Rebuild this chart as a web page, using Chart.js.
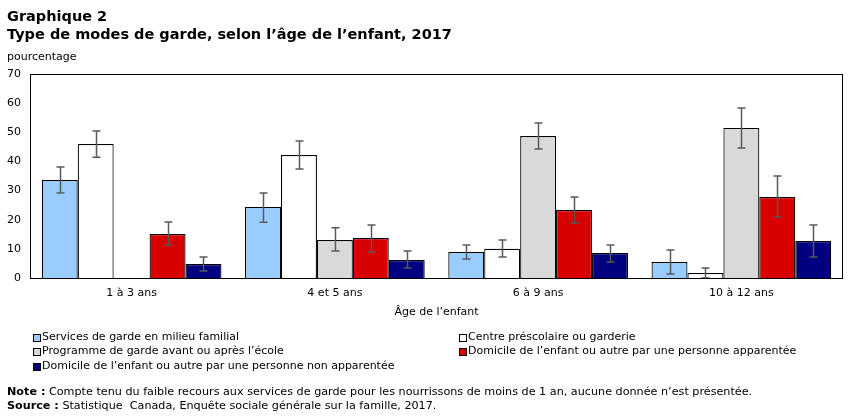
<!DOCTYPE html>
<html lang="fr">
<head>
<meta charset="utf-8">
<script src="https://cdn.jsdelivr.net/npm/chart.js@4.4.1/dist/chart.umd.min.js"></script>
<style>
  html, body { margin: 0; padding: 0; background: #fff; }
  body { width: 852px; height: 417px; position: relative; overflow: hidden; font-family: "DejaVu Sans", Verdana, sans-serif; color: #000; }
  #wrap { position: absolute; left: 0; top: 0; width: 852px; height: 417px; }
  .t { position: absolute; white-space: nowrap; }
  .title { left: 7px; font-weight: bold; font-size: 14.5px; line-height: 18px; }
  .small { font-size: 11px; line-height: 14px; }
  .note { font-size: 11.2px; line-height: 14px; }
  .sw { position: absolute; width: 6px; height: 6px; border: 1px solid #000; }
</style>
</head>
<body>
<div id="wrap"><canvas id="c" width="852" height="417"></canvas></div>
<div class="t title" style="top:7px">Graphique 2</div>
<div class="t title" style="top:25px">Type de modes de garde, selon l’âge de l’enfant, 2017</div>
<div class="t small" style="left:7px; top:50px">pourcentage</div>
<div id="legend"></div>
<div class="t note" style="left:7px; top:385px"><b>Note&nbsp;:</b> Compte tenu du faible recours aux services de garde pour les nourrissons de moins de 1 an, aucune donnée n’est présentée.</div>
<div class="t note" style="left:7px; top:399px"><b>Source&nbsp;:</b> Statistique&nbsp; Canada, Enquête sociale générale sur la famille, 2017.</div>
<script>
// Categories and tick labels
const categories = ['1 à 3 ans', '4 et 5 ans', '6 à 9 ans', '10 à 12 ans'];
const yTicks = [0, 10, 20, 30, 40, 50, 60, 70];

// Series labels
const seriesLabels = [
  'Services de garde en milieu familial',
  'Centre préscolaire ou garderie',
  'Programme de garde avant ou après l’école',
  'Domicile de l’enfant ou autre par une personne apparentée',
  'Domicile de l’enfant ou autre par une personne non apparentée'
];

// Values (percent) with confidence intervals
const familial      = [33.6, 24.4, 8.9, 5.5];
const familialLow   = [29.2, 19.1, 6.5, 1.4];
const familialHigh  = [38.1, 29.2, 11.3, 9.6];

const centre        = [46.0, 42.2, 10.0, 1.7];
const centreLow     = [41.4, 37.4, 7.2, 0.0];
const centreHigh    = [50.4, 47.0, 13.0, 3.4];

const programme     = [null, 13.0, 48.7, 51.5];
const programmeLow  = [null, 9.3, 44.3, 44.6];
const programmeHigh = [null, 17.2, 53.2, 58.3];

const apparentee     = [15.1, 13.7, 23.3, 27.8];
const apparenteeLow  = [11.3, 8.9, 18.9, 20.9];
const apparenteeHigh = [19.2, 18.2, 27.8, 35.0];

const nonApparentee     = [4.8, 6.2, 8.6, 12.7];
const nonApparenteeLow  = [2.4, 3.4, 5.5, 7.2];
const nonApparenteeHigh = [7.2, 9.3, 11.3, 18.2];

const colors = ['#99CCFF', '#FFFFFF', '#D9D9D9', '#D90000', '#000080'];
const seriesData = [familial, centre, programme, apparentee, nonApparentee];
const lows = [familialLow, centreLow, programmeLow, apparenteeLow, nonApparenteeLow];
const highs = [familialHigh, centreHigh, programmeHigh, apparenteeHigh, nonApparenteeHigh];

const FONT = '"DejaVu Sans", Verdana, sans-serif';

const errorBars = {
  id: 'errorBars',
  afterDatasetsDraw(chart) {
    const ctx = chart.ctx;
    const y = chart.scales.y;
    ctx.save();
    ctx.strokeStyle = '#595959';
    ctx.lineWidth = 1.5;
    chart.data.datasets.forEach((ds, di) => {
      const meta = chart.getDatasetMeta(di);
      meta.data.forEach((bar, i) => {
        if (ds.data[i] == null) return;
        const lo = y.getPixelForValue(ds.errLow[i]);
        const hi = y.getPixelForValue(ds.errHigh[i]);
        const x = Math.round(bar.x) + 0.5;
        ctx.beginPath();
        ctx.moveTo(x, hi); ctx.lineTo(x, lo);
        ctx.moveTo(x - 4, hi); ctx.lineTo(x + 4, hi);
        ctx.moveTo(x - 4, lo); ctx.lineTo(x + 4, lo);
        ctx.stroke();
      });
    });
    ctx.restore();
  }
};

const frame = {
  id: 'frame',
  afterDraw(chart) {
    const a = chart.chartArea;
    const ctx = chart.ctx;
    ctx.save();
    ctx.strokeStyle = '#000';
    ctx.lineWidth = 1;
    ctx.strokeRect(Math.round(a.left) + 0.5, Math.round(a.top) + 0.5,
                   Math.round(a.right - a.left) - 1, Math.round(a.bottom - a.top));
    ctx.restore();
  }
};

const chart = new Chart(document.getElementById('c'), {
  type: 'bar',
  data: {
    labels: categories,
    datasets: seriesLabels.map((label, i) => ({
      label,
      data: seriesData[i],
      errLow: lows[i],
      errHigh: highs[i],
      backgroundColor: colors[i],
      borderColor: '#000',
      borderWidth: 1.2,
      borderSkipped: 'bottom',
      categoryPercentage: 0.884,
      barPercentage: 1.0
    }))
  },
  options: {
    responsive: false,
    animation: false,
    devicePixelRatio: 1,
    layout: { padding: { left: 0, top: 74, right: 9, bottom: 98 } },
    plugins: { legend: { display: false }, tooltip: { enabled: false }, title: { display: false } },
    scales: {
      x: {
        grid: { display: false, drawTicks: false },
        border: { display: false },
        ticks: { color: '#000', padding: 9, font: { family: FONT, size: 11 } },
        title: { display: true, text: 'Âge de l’enfant', color: '#000', padding: { top: 6, bottom: 0 }, font: { family: FONT, size: 11 } },
        afterFit(s) { s.height = 41; }
      },
      y: {
        min: 0, max: 70,
        grid: { display: false, drawTicks: false },
        border: { display: false },
        afterBuildTicks(s) { s.ticks = yTicks.map(v => ({ value: v })); },
        ticks: { color: '#000', padding: 9, font: { family: FONT, size: 11 } },
        afterFit(s) { s.width = 30; }
      }
    }
  },
  plugins: [errorBars, frame]
});

// HTML legend built from the chart's datasets
const legendPos = [
  { x: 33, y: 330 }, { x: 459, y: 330 },
  { x: 33, y: 344 }, { x: 459, y: 344 },
  { x: 33, y: 359 }
];
const lg = document.getElementById('legend');
chart.data.datasets.forEach((ds, i) => {
  const p = legendPos[i];
  const sw = document.createElement('div');
  sw.className = 'sw';
  sw.style.left = p.x + 'px';
  sw.style.top = (p.y + 4) + 'px';
  sw.style.background = ds.backgroundColor;
  lg.appendChild(sw);
  const t = document.createElement('div');
  t.className = 't small';
  t.style.left = (p.x + 9) + 'px';
  t.style.top = p.y + 'px';
  t.textContent = ds.label;
  lg.appendChild(t);
});
</script>
</body>
</html>
